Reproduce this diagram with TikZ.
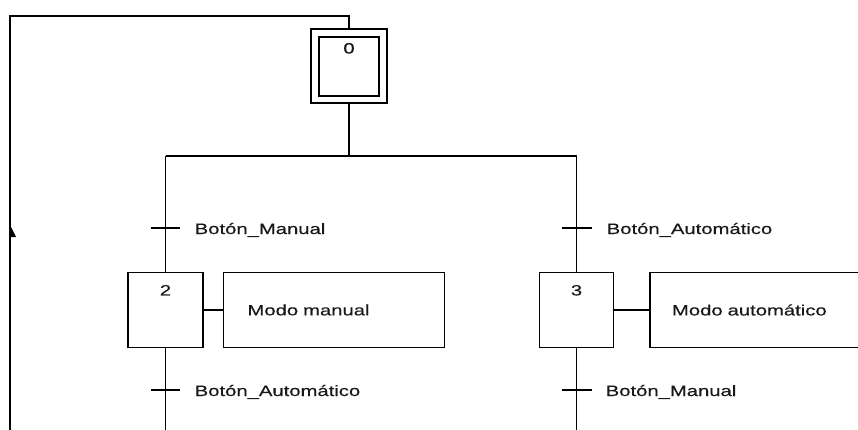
\documentclass[tikz,border=0pt]{standalone}
\usepackage{fontspec}
\newfontfamily\lblfont[FakeStretch=1.35,FakeBold=0.4]{Liberation Sans}
\begin{document}
\begin{tikzpicture}[x=1pt,y=-1pt, line width=1.5pt,
  every node/.style={font=\lblfont\fontsize{15}{18}\selectfont, text=black!90},
  stepbox/.style={draw=black, minimum width=75pt, minimum height=75pt, inner sep=0pt},
  actbox/.style={draw=black, minimum height=75pt, align=left},
  lbl/.style={anchor=base west, inner sep=0pt},
  num/.style={anchor=north, inner sep=0pt},
  tick/.style={line width=1.5pt}]
\useasboundingbox (0,0) rectangle (858,430);

% initial step 0
\node[stepbox, minimum width=76pt, minimum height=74pt] (s0) at (349,66) {};
\node[stepbox, minimum width=60pt, minimum height=59pt] (s0i) at (349,66.5) {};
\node[num] (n0) at ([yshift=-6pt]s0i.north) {0};

% steps 2 and 3
\node[stepbox] (s2) at (165.5,310) {};
\node[num] (n2) at ([yshift=-12.5pt]s2.north) {2};
\node[stepbox, minimum width=74pt] (s3) at (576.5,310) {};
\node[num] (n3) at ([yshift=-12.5pt]s3.north) {3};

% actions
\node[actbox, minimum width=221pt, text width=173pt, inner xsep=24pt] (a2) at (334,310) {Modo manual};
\node[actbox, minimum width=230pt, text width=186pt, inner xsep=22pt] (a3) at (765,310) {Modo automático};

% coordinates
\coordinate (c1) at (349,16);
\coordinate (c2) at (10,16);
\coordinate (c3) at (10,430);
\coordinate (d0) at (349,156);
\coordinate (dl) at (165.5,156);
\coordinate (dr) at (576.5,156);
\coordinate (e2) at (165.5,430);
\coordinate (e3) at (576.5,430);
\coordinate (t1) at (165.5,228);
\coordinate (t2) at (576.5,228);
\coordinate (t3) at (165.5,390);
\coordinate (t4) at (576.5,390);

% connectors
\draw (s0.north) -- (c1) -- (c2) -- (c3);
\fill (10,225) -- (16,237) -- (10,237) -- cycle;
\draw (s0.south) -- (d0);
\draw (dl) -- (dr);
\draw (dl) -- (s2.north);
\draw (dr) -- (s3.north);
\draw (s2.east) -- (a2.west);
\draw (s3.east) -- (a3.west);
\draw (s2.south) -- (e2);
\draw (s3.south) -- (e3);

% transitions
\draw[tick] ([xshift=-15pt]t1) -- ([xshift=14pt]t1);
\draw[tick] ([xshift=-15pt]t2) -- ([xshift=15pt]t2);
\draw[tick] ([xshift=-15pt]t3) -- ([xshift=14pt]t3);
\draw[tick] ([xshift=-15pt]t4) -- ([xshift=15pt]t4);

\node[lbl] (l1) at (194,234) {Botón\_Manual};
\node[lbl] (l2) at (606,234) {Botón\_Automático};
\node[lbl] (l3) at (194,396) {Botón\_Automático};
\node[lbl] (l4) at (605,396) {Botón\_Manual};
\end{tikzpicture}
\end{document}
